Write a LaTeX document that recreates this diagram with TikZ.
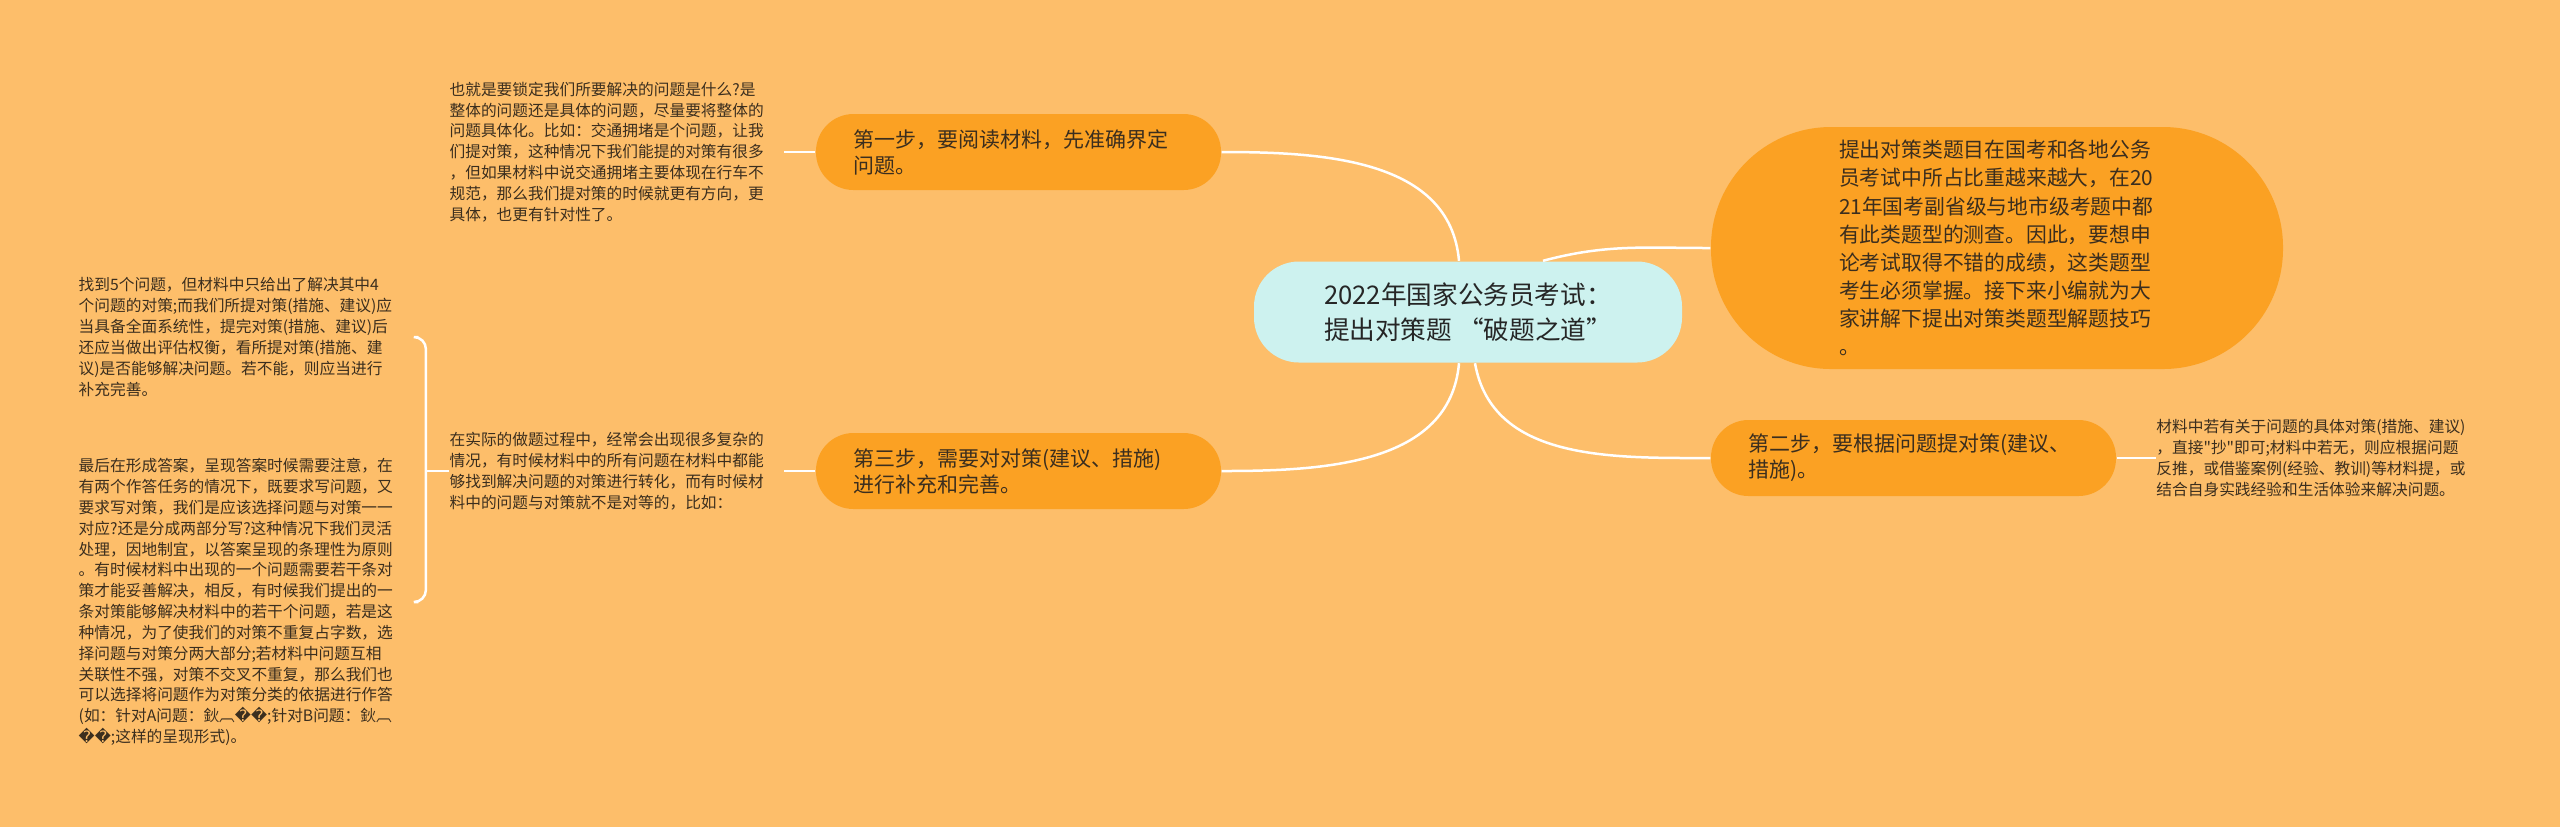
\documentclass[tikz,border=0pt]{standalone}
\usepackage{fontspec}
\setmainfont{Noto Sans CJK SC}
\newfontfamily\rawfont{Noto Sans CJK SC}
\newfontfamily\symfont{DejaVu Sans}
\usetikzlibrary{positioning}

\definecolor{bgorange}{HTML}{FDBE6A}
\definecolor{steporange}{HTML}{FBA123}
\definecolor{titlecyan}{HTML}{CDF2EF}
\definecolor{inktext}{HTML}{3B2E1E}

\tikzset{
  stepbox/.style={fill=steporange, rounded corners=0.375cm, minimum height=0.76cm,
    text width=3.30cm, inner xsep=0.375cm, inner ysep=0.1cm, align=left,
    font=\fontsize{5.97pt}{7.4pt}\selectfont, text=inktext},
  note/.style={text width=3.34cm, inner sep=0pt, align=left,
    font=\fontsize{4.47pt}{5.93pt}\selectfont, text=inktext},
  link/.style={draw=white, line width=0.025cm},
}

\begin{document}
\begin{tikzpicture}
\fill[bgorange] (0,0) rectangle (25.6,-8.27);
\useasboundingbox (0,0) rectangle (25.6,-8.27);

% centre
\node[fill=titlecyan, rounded corners=0.45cm, minimum width=4.28cm, minimum height=1.01cm,
    align=center, font=\fontsize{7.3pt}{9.9pt}\selectfont, text=black!85]
    (title) at (14.68,-3.12) {2022年国家公务员考试：\\提出对策题 “破题之道”};

% steps
\node[stepbox] (step1) at (10.185,-1.52) {第一步，要阅读材料，先准确界定\\问题。};
\node[stepbox] (step3) at (10.185,-4.71) {第三步，需要对对策(建议、措施)\\进行补充和完善。};
\node[stepbox] (step2) at (19.135,-4.58) {第二步，要根据问题提对策(建议、\\措施)。};
\node[stepbox, text width=3.16cm, minimum width=5.72cm, minimum height=2.42cm,
    rounded corners=1.2cm, font=\fontsize{5.92pt}{8pt}\selectfont]
    (intro) at (19.97,-2.48) {提出对策类题目在国考和各地公务\\员考试中所占比重越来越大，在20\\21年国考副省级与地市级考题中都\\有此类题型的测查。因此，要想申\\论考试取得不错的成绩，这类题型\\考生必须掌握。接下来小编就为大\\家讲解下提出对策类题型解题技巧\\。};

% notes
\node[note, left=0.31cm of step1] (note1) {也就是要锁定我们所要解决的问题是什么?是\\整体的问题还是具体的问题，尽量要将整体的\\问题具体化。比如：交通拥堵是个问题，让我\\们提对策，这种情况下我们能提的对策有很多\\，但如果材料中说交通拥堵主要体现在行车不\\规范，那么我们提对策的时候就更有方向，更\\具体，也更有针对性了。};
\node[note, left=0.31cm of step3] (note3) {在实际的做题过程中，经常会出现很多复杂的\\情况，有时候材料中的所有问题在材料中都能\\够找到解决问题的对策进行转化，而有时候材\\料中的问题与对策就不是对等的，比如：};
\node[note, right=0.39cm of step2, text width=3.45cm] (note2) {材料中若有关于问题的具体对策(措施、建议)\\，直接{\rawfont "}抄{\rawfont "}即可;材料中若无，则应根据问题\\反推，或借鉴案例(经验、教训)等材料提，或\\结合自身实践经验和生活体验来解决问题。};
\node[note, anchor=west, text width=3.39cm] (noteA) at (0.78,-3.37) {找到5个问题，但材料中只给出了解决其中4\\个问题的对策;而我们所提对策(措施、建议)应\\当具备全面系统性，提完对策(措施、建议)后\\还应当做出评估权衡，看所提对策(措施、建\\议)是否能够解决问题。若不能，则应当进行\\补充完善。};
\node[note, anchor=west, text width=3.39cm] (noteB) at (0.78,-6.02) {最后在形成答案，呈现答案时候需要注意，在\\有两个作答任务的情况下，既要求写问题，又\\要求写对策，我们是应该选择问题与对策一一\\对应?还是分成两部分写?这种情况下我们灵活\\处理，因地制宜，以答案呈现的条理性为原则\\。有时候材料中出现的一个问题需要若干条对\\策才能妥善解决，相反，有时候我们提出的一\\条对策能够解决材料中的若干个问题，若是这\\种情况，为了使我们的对策不重复占字数，选\\择问题与对策分两大部分;若材料中问题互相\\关联性不强，对策不交叉不重复，那么我们也\\可以选择将问题作为对策分类的依据进行作答\\(如：针对A问题：鈥︹{\symfont ��};针对B问题：鈥︹\\{\symfont ��};这样的呈现形式)。};

% connectors
\draw[link] (step1.east) to[out=0,in=95] ([xshift=-0.09cm]title.north);
\draw[link] ([xshift=0.75cm]title.north) to[out=15,in=180] (intro.west);
\draw[link] ([xshift=-0.09cm]title.south) to[out=-95,in=0] (step3.east);
\draw[link] ([xshift=0.07cm]title.south) to[out=-80,in=180] (step2.west);
\draw[link] (note1.east) -- (step1.west);
\draw[link] (step3.west) -- (note3.east);
\draw[link] (step2.east) -- (note2.west);
\coordinate (brk) at ([xshift=-0.23cm]note3.west);
\draw[link] (note3.west) -- (brk);
\draw[link, rounded corners=0.12cm] (noteA.east) -| (brk) |- (noteB.east);
\end{tikzpicture}
\end{document}
